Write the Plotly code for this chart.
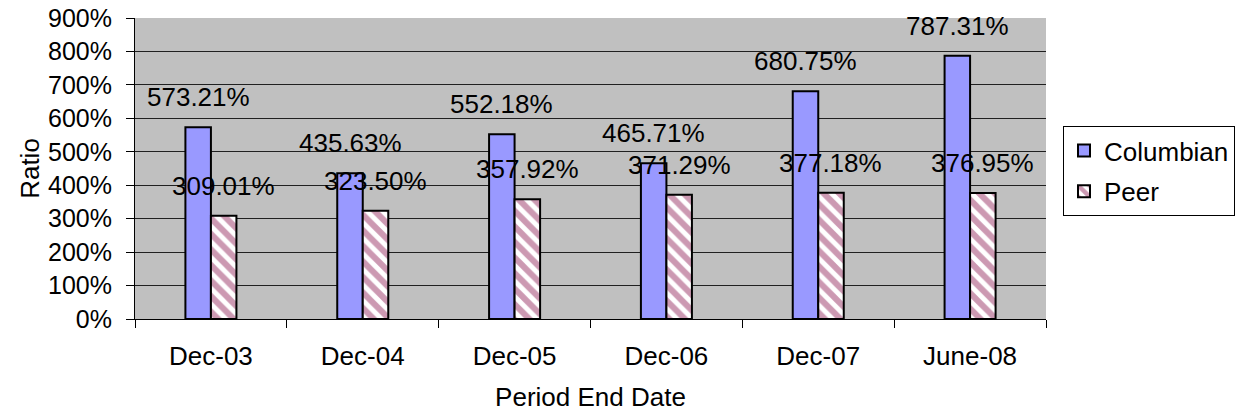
import plotly.graph_objects as go

categories = ["Dec-03", "Dec-04", "Dec-05", "Dec-06", "Dec-07", "June-08"]
columbian = [573.21, 435.63, 552.18, 465.71, 680.75, 787.31]
peer = [309.01, 323.50, 357.92, 371.29, 377.18, 376.95]

FONT = "Arial, Liberation Sans, sans-serif"
FS = 26

fig = go.Figure()

fig.add_trace(go.Bar(
    name="Columbian", legendgroup="c",
    x=categories, y=columbian,
    marker=dict(color="#9999FF", line=dict(color="black", width=2)),
))
fig.add_trace(go.Bar(
    name="Peer", legendgroup="p",
    x=categories, y=peer,
    marker=dict(
        color="white",
        line=dict(color="black", width=2),
        pattern=dict(shape="\\", fgcolor="#993366", bgcolor="white", size=11, solidity=0.55),
    ),
))

# data labels sit a bit above each bar, like the Excel original
bar_half = 12.7
for vals, shift in [(columbian, -bar_half), (peer, bar_half)]:
    for c, v in zip(categories, vals):
        fig.add_annotation(
            x=c, y=v, text=f"{v:.2f}%", showarrow=False,
            xshift=shift, yshift=13, yanchor="bottom",
            font=dict(family=FONT, size=FS, color="black"),
        )

fig.update_layout(
    width=1235, height=412,
    margin=dict(l=135, r=189, t=18, b=93),
    paper_bgcolor="white",
    plot_bgcolor="#C0C0C0",
    font=dict(family=FONT, size=FS, color="black"),
    barmode="group",
    bargap=0.664,
    bargroupgap=0,
    showlegend=True,
    legend=dict(
        xref="container", yref="container",
        x=1.0, y=1 - 126 / 412, xanchor="right", yanchor="top",
        bordercolor="black", borderwidth=1, bgcolor="white",
        font=dict(family=FONT, size=FS),
        tracegroupgap=4,
    ),
)
fig.update_xaxes(
    title=dict(text="Period End Date", standoff=19, font=dict(family=FONT, size=FS)),
    automargin=False,
    showline=True, linecolor="black", linewidth=1,
    ticks="outside", tickson="boundaries", ticklen=8, tickcolor="black",
    ticklabelstandoff=14, ticklabeloverflow="allow",
    tickfont=dict(family=FONT, size=FS),
    showgrid=False,
)
fig.update_yaxes(
    title=dict(text="Ratio", standoff=0, font=dict(family=FONT, size=FS)),
    automargin=False,
    range=[0, 900], dtick=100, ticksuffix="%",
    showline=True, linecolor="black", linewidth=1,
    ticks="outside", ticklen=8, tickcolor="black",
    ticklabelstandoff=9, ticklabeloverflow="allow",
    tickfont=dict(family=FONT, size=25),
    showgrid=True, gridcolor="#202020", gridwidth=1,
    zeroline=False,
)

fig.write_html(
    "out.html",
    config={"displayModeBar": False},
    post_script="document.body.style.margin='0';document.body.style.overflow='hidden';",
)
